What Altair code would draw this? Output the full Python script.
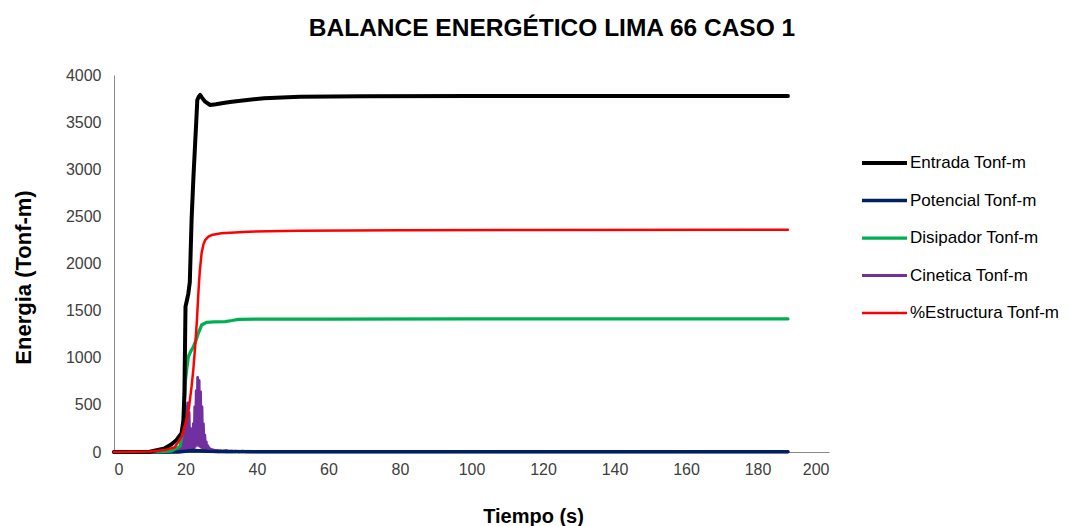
import altair as alt
import pandas as pd

TITLE = "BALANCE ENERGÉTICO LIMA 66 CASO 1"
SERIES = ["Entrada Tonf-m", "Potencial Tonf-m", "Disipador Tonf-m",
          "Cinetica Tonf-m", "%Estructura Tonf-m"]
COLORS = ["#000000", "#002060", "#00B050", "#7030A0", "#FF0000"]
WIDTHS = [4, 2.5, 3, 1.8, 3]
DRAW_ORDER = ["Cinetica Tonf-m", "Potencial Tonf-m", "Disipador Tonf-m",
              "Entrada Tonf-m", "%Estructura Tonf-m"]

X_TICKS = [0, 20, 40, 60, 80, 100, 120, 140, 160, 180, 200]
Y_TICKS = [0, 500, 1000, 1500, 2000, 2500, 3000, 3500, 4000]

# Entrada (input energy)
ent_t = [0, 10, 14.2, 16, 17.5, 18.9, 19.4, 19.7, 20.0, 20.4, 20.8, 21.2, 21.7,
         22.2, 22.7, 23.0, 23.3, 23.7, 24.1, 24.6, 25.5, 26.9, 28.5, 31, 33, 36,
         42, 52, 70, 100, 140, 188.5]
ent_v = [0, 2, 39, 80, 127, 200, 330, 624, 1542, 1610, 1684, 1800, 2460,
         2900, 3277, 3500, 3735, 3770, 3788, 3760, 3717, 3682, 3690, 3705, 3717,
         3730, 3753, 3770, 3775, 3777, 3778, 3778]

# %Estructura
est_t = [0, 10, 14.2, 17, 18.9, 20.3, 21.0, 21.7, 22.2, 22.7, 23.2, 23.6, 24.0,
         24.5, 25.0, 25.5, 26.4, 27.3, 30, 37.6, 51.7, 80, 120, 188.5]
est_v = [0, 5, 20, 50, 163, 340, 480, 693, 880, 1117, 1400, 1687, 1920,
         2108, 2200, 2249, 2285, 2302, 2320, 2337, 2348, 2352, 2355, 2357]

# Disipador
dis_t = [0, 10, 16, 18.5, 19.4, 19.7, 20.0, 20.4, 20.8, 21.5, 22.2, 23.0, 23.6,
         24.5, 25.9, 28, 31.1, 33, 34.8, 40, 60, 100, 188.5]
dis_v = [0, 2, 10, 60, 270, 550, 764, 900, 1011, 1070, 1117, 1190, 1262,
         1347, 1376, 1380, 1383, 1395, 1408, 1411, 1411, 1412, 1412]

# Potencial
pot_t = [0, 18, 20, 22, 24, 26, 30, 40, 188.5]
pot_v = [0, 0, 8, 15, 12, 8, 5, 3, 3]

# Cinetica: oscillating values sampled every 0.2 s from 16.0 s to 33.8 s
cin_head_t = [0, 10, 15]
cin_head_v = [0, 0, 2]
cin_osc_start = 16.0
cin_osc_step = 0.2
cin_osc_v = [0, 10, 2, 15, 3, 20, 4, 25, 5, 30,
             6, 50, 8, 80, 10, 120, 15, 250, 20, 380,
             30, 480, 40, 520, 30, 420, 20, 250, 15, 120,
             20, 300, 40, 480, 60, 650, 80, 790, 70, 760,
             60, 640, 50, 480, 40, 300, 30, 180, 20, 110,
             15, 70, 10, 45, 8, 30, 6, 25, 5, 20,
             4, 18, 4, 15, 3, 15, 3, 12, 3, 12,
             3, 10, 2, 10, 2, 12, 2, 15, 2, 10,
             2, 8, 2, 8, 2, 10, 2, 6, 2, 6]
cin_tail_t = [34, 35, 36, 37, 38, 40, 50, 188.5]
cin_tail_v = [8, 2, 9, 2, 5, 3, 2, 2]

cin_t = cin_head_t + [round(cin_osc_start + cin_osc_step * i, 1)
                      for i in range(len(cin_osc_v))] + cin_tail_t
cin_v = cin_head_v + cin_osc_v + cin_tail_v

rows = []
for name, ts, vs in [(SERIES[0], ent_t, ent_v), (SERIES[1], pot_t, pot_v),
                     (SERIES[2], dis_t, dis_v), (SERIES[3], cin_t, cin_v),
                     (SERIES[4], est_t, est_v)]:
    for t, v in zip(ts, vs):
        rows.append({"serie": name, "t": t, "e": v})
df = pd.DataFrame(rows)

FONT = "Liberation Sans"

color = alt.Color(
    "serie:N", scale=alt.Scale(domain=SERIES, range=COLORS),
    legend=alt.Legend(
        title=None, orient="none", legendX=746, legendY=78,
        symbolType="stroke", symbolSize=2025, clipHeight=20, rowPadding=17.5,
        labelFontSize=17, labelFont=FONT, labelColor="#000000", labelOffset=1,
        labelLimit=0, padding=0, symbolStrokeWidth=3,
    ),
)
swidth = alt.StrokeWidth("serie:N", scale=alt.Scale(domain=SERIES, range=WIDTHS),
                         legend=None)

xenc = alt.X("t:Q", scale=alt.Scale(domain=[0, 200], nice=False),
             axis=alt.Axis(values=X_TICKS, title="Tiempo (s)", labelPadding=9,
                           titleX=419, titleY=64, titleBaseline="middle"))
yenc = alt.Y("e:Q", scale=alt.Scale(domain=[0, 4000], nice=False),
             axis=alt.Axis(values=Y_TICKS, format="d", title="Energia (Tonf-m)",
                           labelPadding=13, titleAngle=270, titleX=-91, titleY=202,
                           titleBaseline="middle", titleAlign="center",
                           titleFontSize=22))

base = alt.Chart(df).mark_line(strokeJoin="round", strokeCap="round").encode(
    x=xenc, y=yenc, color=color, strokeWidth=swidth
)

layers = [base.transform_filter(alt.datum.serie == name) for name in DRAW_ORDER]

title_layer = alt.Chart(pd.DataFrame({"titulo": [TITLE]})).mark_text(
    font=FONT, fontSize=24.5, fontWeight="bold", color="#000000",
    align="center", baseline="middle",
).encode(text="titulo:N", x=alt.value(438), y=alt.value(-46))

chart = alt.layer(*layers, title_layer).properties(
    width=715, height=377,
    autosize=alt.AutoSizeParams(type="none"),
    padding={"left": 106, "top": 67, "right": 241, "bottom": 78},
).configure_view(stroke=None).configure_axis(
    grid=False, ticks=False, domainColor="#8a8a8a", domainWidth=1,
    labelFont=FONT, labelFontSize=16, labelColor="#404040",
    titleFont=FONT, titleFontSize=20, titleFontWeight="bold", titleColor="#000000",
)

chart.save("out.html", embed_options={"renderer": "svg", "actions": False})
